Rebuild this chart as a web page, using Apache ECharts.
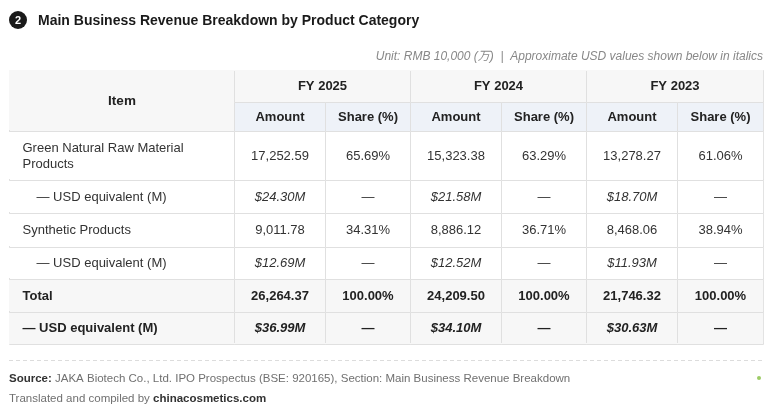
<!DOCTYPE html>
<html><head><meta charset="utf-8">
<script src="https://cdn.jsdelivr.net/npm/echarts@6.0.0/dist/echarts.min.js"></script>
<style>html,body{margin:0;padding:0;background:#fff}#c{width:772px;height:413px}</style>
</head><body><div id="c"></div>
<script>
const years = ['FY 2025', 'FY 2024', 'FY 2023'];
const subCols = ['Amount', 'Share (%)'];
const itemHeader = 'Item';
const rowLabels = ['Green Natural Raw Material\nProducts', '— USD equivalent (M)', 'Synthetic Products', '— USD equivalent (M)', 'Total', '— USD equivalent (M)'];
const rowKinds = ['main', 'usd', 'main', 'usd', 'total', 'totalUsd'];
const greenAmount = [17252.59, 15323.38, 13278.27];
const greenShare = [65.69, 63.29, 61.06];
const greenUsd = [24.30, 21.58, 18.70];
const synthAmount = [9011.78, 8886.12, 8468.06];
const synthShare = [34.31, 36.71, 38.94];
const synthUsd = [12.69, 12.52, 11.93];
const totalAmount = [26264.37, 24209.50, 21746.32];
const totalShare = [100.00, 100.00, 100.00];
const totalUsd = [36.99, 34.10, 30.63];

const rowAmounts = [greenAmount, greenUsd, synthAmount, synthUsd, totalAmount, totalUsd];
const rowShares = [greenShare, null, synthShare, null, totalShare, null];

const fmtAmt = v => v.toLocaleString('en-US', {minimumFractionDigits: 2, maximumFractionDigits: 2});
const fmtUsd = v => '$' + v.toFixed(2) + 'M';
const fmtShare = v => v.toFixed(2) + '%';

// layout (pixel sizes of table columns / rows)
const TL = 9, TT = 70;
const colSizes = [225, 91, 85, 91, 85, 91, 86];
const headSizes = [32, 29];
const rowSizes = [49, 33, 34, 32, 33, 32];
const sum = a => a.reduce((s, v) => s + v, 0);
const TW = sum(colSizes), TH = sum(headSizes) + sum(rowSizes);

const FONT = '"Liberation Sans", Arial, "Noto Sans CJK SC", sans-serif';
const GRAY = '#f7f7f7', BLUE = '#eef2f8', LINE = '#e0e0e0';

const xData = [{value: itemHeader, size: colSizes[0], label: {fontSize: 13.5}}].concat(years.map((y, i) => ({
  value: y,
  children: subCols.map((s, j) => ({value: s + '\u200b'.repeat(i), size: colSizes[1 + i * 2 + j], itemStyle: {color: BLUE}, label: {overflow: 'none', width: null}}))
})));
const yData = rowLabels.map((r, i) => ({value: 'r' + i, size: rowSizes[i]}));

const bodyData = [];
const rowBg = [];
rowLabels.forEach((lab, r) => {
  const kind = rowKinds[r];
  const bold = kind === 'total' || kind === 'totalUsd';
  const bg = bold ? GRAY : '#ffffff';
  rowBg.push(bg);
  const indent = kind === 'usd' ? 24 : 10;
  bodyData.push({
    coord: [0, r], value: lab,
    label: {position: 'insideLeft', align: 'left', distance: indent, fontWeight: bold ? 'bold' : 'normal', color: bold ? '#222' : '#333', lineHeight: 16},
    itemStyle: {color: bg}
  });
  years.forEach((y, i) => {
    const isUsd = kind === 'usd' || kind === 'totalUsd';
    const a = rowAmounts[r][i];
    bodyData.push({
      coord: [1 + i * 2, r], value: isUsd ? fmtUsd(a) : fmtAmt(a),
      label: {fontStyle: isUsd ? 'italic' : 'normal', fontWeight: bold ? 'bold' : 'normal', color: bold ? '#222' : '#333'},
      itemStyle: {color: bg}
    });
    bodyData.push({
      coord: [2 + i * 2, r], value: rowShares[r] ? fmtShare(rowShares[r][i]) : '—',
      label: {fontWeight: bold ? 'bold' : 'normal', color: bold ? '#222' : '#333'},
      itemStyle: {color: bg}
    });
  });
});

// mask the outer frame so the table has no outside border (cell colour drawn over it)
const edgeMasks = [];
const addEdge = (x1, y1, x2, y2, c) => edgeMasks.push({type: 'line', z: 100, shape: {x1, y1, x2, y2}, style: {stroke: c, lineWidth: 1.2}});
addEdge(TL, TT + 0.5, TL + TW, TT + 0.5, GRAY);
addEdge(TL, TT + TH - 0.5, TL + TW, TT + TH - 0.5, rowBg[rowBg.length - 1]);
let yy = TT;
addEdge(TL + 0.5, yy + 1, TL + 0.5, yy + sum(headSizes) - 1, GRAY);
addEdge(TL + TW - 0.5, yy + 1, TL + TW - 0.5, yy + headSizes[0] - 1, GRAY);
addEdge(TL + TW - 0.5, yy + headSizes[0] + 1, TL + TW - 0.5, yy + sum(headSizes) - 1, BLUE);
yy += sum(headSizes);
rowSizes.forEach((h, i) => {
  addEdge(TL + 0.5, yy + 1, TL + 0.5, yy + h - 1, rowBg[i]);
  addEdge(TL + TW - 0.5, yy + 1, TL + TW - 0.5, yy + h - 1, rowBg[i]);
  yy += h;
});

const chart = echarts.init(document.getElementById('c'));
chart.setOption({
  backgroundColor: '#fff',
  textStyle: {fontFamily: FONT},
  title: [
    {text: 'Main Business Revenue Breakdown by Product Category', left: 33, top: 9, textStyle: {fontFamily: FONT, fontSize: 14, fontWeight: 'bold', color: '#1a1a1a'}},
    {text: 'Unit: RMB 10,000 (万)  |  Approximate USD values shown below in italics', right: 4, top: 46, textStyle: {fontFamily: FONT, fontSize: 12, fontStyle: 'italic', fontWeight: 'normal', color: '#888'}},
    {text: '{b|Source:} JAKA Biotech Co., Ltd. IPO Prospectus (BSE: 920165), Section: Main Business Revenue Breakdown', left: 4, top: 368, textStyle: {fontFamily: FONT, fontSize: 11.5, fontWeight: 'normal', color: '#707070', rich: {b: {fontFamily: FONT, fontSize: 11.5, fontWeight: 'bold', color: '#333'}}}},
    {text: 'Translated and compiled by {b|chinacosmetics.com}', left: 4, top: 388, textStyle: {fontFamily: FONT, fontSize: 11.5, fontWeight: 'normal', color: '#707070', rich: {b: {fontFamily: FONT, fontSize: 11.5, fontWeight: 'bold', color: '#333'}}}}
  ],
  graphic: [
    {type: 'circle', shape: {cx: 18, cy: 20, r: 9}, style: {fill: '#1a1a1a'}},
    {type: 'text', x: 18, y: 20.5, style: {text: '2', fill: '#fff', font: 'bold 11px ' + FONT, align: 'center', verticalAlign: 'middle'}},
    {type: 'line', shape: {x1: 9, y1: 360.5, x2: 763, y2: 360.5}, style: {stroke: '#dcdcdc', lineWidth: 1, lineDash: [4, 3]}},
    {type: 'circle', shape: {cx: 759, cy: 378, r: 2}, style: {fill: '#9ccc65'}}
  ].concat(edgeMasks),
  matrix: {
    left: TL, top: TT, width: TW, height: TH,
    backgroundStyle: {borderWidth: 0, color: '#fff'},
    x: {
      show: true,
      data: xData,
      levels: headSizes.map(s => ({levelSize: s})),
      itemStyle: {color: GRAY, borderColor: LINE, borderWidth: 1},
      label: {fontFamily: FONT, fontWeight: 'bold', fontSize: 13, color: '#222', overflow: 'none'},
      dividerLineStyle: {color: '#dadada', width: 1}
    },
    y: {show: false, data: yData},
    body: {
      data: bodyData,
      itemStyle: {color: '#fff', borderColor: LINE, borderWidth: 1},
      label: {fontFamily: FONT, fontSize: 13, color: '#333'}
    }
  }
});
</script></body></html>
